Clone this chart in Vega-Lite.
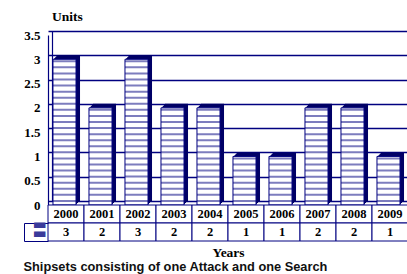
{
  "$schema": "https://vega.github.io/schema/vega-lite/v6.json",
  "padding": {"left": 23, "top": 9, "right": 0, "bottom": 0},
  "background": "white",
  "datasets": {
    "shipsets": [
      {"year": "2000", "units": 3},
      {"year": "2001", "units": 2},
      {"year": "2002", "units": 3},
      {"year": "2003", "units": 2},
      {"year": "2004", "units": 2},
      {"year": "2005", "units": 1},
      {"year": "2006", "units": 1},
      {"year": "2007", "units": 2},
      {"year": "2008", "units": 2},
      {"year": "2009", "units": 1}
    ]
  },
  "title": {
    "text": "Shipsets consisting of one Attack and one Search",
    "orient": "bottom",
    "anchor": "start",
    "frame": "bounds",
    "font": "Liberation Sans",
    "fontSize": 12.8,
    "fontWeight": "bold",
    "color": "#111111",
    "offset": 2
  },
  "spacing": 0,
  "bounds": "flush",
  "config": {"view": {"stroke": null}},
  "vconcat": [
    {
      "width": 360,
      "height": 170,
      "data": {"name": "shipsets"},
      "title": {
        "text": "Units",
        "anchor": "start",
        "frame": "group",
        "font": "Liberation Serif",
        "fontSize": 13.5,
        "fontWeight": "bold",
        "color": "black",
        "dx": 4,
        "offset": 6
      },
      "encoding": {
        "x": {
          "field": "year",
          "type": "ordinal",
          "scale": {"paddingInner": 0, "paddingOuter": 0},
          "axis": null
        }
      },
      "layer": [
        {
          "mark": {"type": "bar", "color": "#000066", "width": {"band": 0.64}, "xOffset": 2.5, "x2Offset": 2.5},
          "encoding": {
            "y": {
              "field": "units",
              "type": "quantitative",
              "scale": {"domain": [0, 3.5], "range": [166, -4], "nice": false},
              "axis": {
                "orient": "left",
                "offset": -4,
                "values": [0, 0.5, 1, 1.5, 2, 2.5, 3, 3.5],
                "grid": true,
                "gridColor": "#000080",
                "gridWidth": 1.4,
                "labels": false,
                "ticks": false,
                "domain": true,
                "domainColor": "#000080",
                "domainWidth": 1.2,
                "title": null
              }
            }
          }
        },
        {
          "encoding": {
            "y": {
              "field": "units",
              "type": "quantitative",
              "scale": {"domain": [0, 3.5], "nice": false},
              "axis": {
                "orient": "left",
                "values": [0, 0.5, 1, 1.5, 2, 2.5, 3, 3.5],
                "format": "~g",
                "grid": false,
                "ticks": false,
                "domain": true,
                "domainColor": "#000080",
                "domainWidth": 1.2,
                "labelFont": "Liberation Serif",
                "labelFontSize": 13,
                "labelFontWeight": "bold",
                "labelColor": "black",
                "labelPadding": 8,
                "title": null
              }
            }
          },
          "layer": [
            {"mark": {"type": "bar", "color": "#000066", "width": {"band": 0.64}, "xOffset": 1.5, "x2Offset": 1.5, "yOffset": -3, "y2Offset": -3}},
            {"mark": {"type": "bar", "color": "#000066", "width": {"band": 0.64}, "xOffset": 0.5, "x2Offset": 0.5, "yOffset": -2, "y2Offset": -2}},
            {"mark": {"type": "bar", "color": "#000066", "width": {"band": 0.64}, "xOffset": -0.5, "x2Offset": -0.5, "yOffset": -1, "y2Offset": -1}},
            {"mark": {"type": "bar", "fill": "white", "width": {"band": 0.64}, "xOffset": -1.5, "x2Offset": -1.5}},
            {
              "mark": {"type": "rule", "color": "#7d7dbe", "strokeWidth": 23, "strokeDash": [2, 4.07], "strokeDashOffset": -1, "xOffset": -1.5},
              "encoding": {"y2": {"datum": 0}}
            },
            {"mark": {"type": "bar", "fillOpacity": 0, "stroke": "#000080", "strokeWidth": 1, "width": {"band": 0.64}, "xOffset": -1.5, "x2Offset": -1.5}}
          ]
        }
      ],
      "resolve": {"scale": {"y": "independent"}}
    },
    {
      "width": 360,
      "height": 18,
      "data": {"name": "shipsets"},
      "encoding": {
        "x": {
          "field": "year",
          "type": "ordinal",
          "scale": {"paddingInner": 0, "paddingOuter": 0},
          "axis": null
        },
        "y": {"datum": "years", "type": "nominal", "scale": {"paddingInner": 0, "paddingOuter": 0}, "axis": null}
      },
      "layer": [
        {"mark": {"type": "rect", "fill": "white", "stroke": "#000080", "strokeWidth": 1}},
        {
          "mark": {"type": "text", "font": "Liberation Serif", "fontSize": 12.5, "fontWeight": "bold", "color": "black"},
          "encoding": {"text": {"field": "year"}}
        }
      ]
    },
    {
      "width": 360,
      "height": 18,
      "data": {"name": "shipsets"},
      "encoding": {
        "x": {
          "field": "year",
          "type": "ordinal",
          "scale": {"paddingInner": 0, "paddingOuter": 0},
          "axis": {
            "title": "Years",
            "labels": false,
            "ticks": false,
            "domain": false,
            "titleFont": "Liberation Serif",
            "titleFontSize": 13.5,
            "titleFontWeight": "bold",
            "titleColor": "black",
            "titlePadding": 4
          }
        },
        "y": {
          "datum": "legend",
          "type": "nominal",
          "scale": {"paddingInner": 0, "paddingOuter": 0},
          "axis": {
            "orient": "left",
            "offset": 24,
            "domain": true,
            "domainColor": "#000080",
            "ticks": true,
            "tickBand": "extent",
            "tickSize": -24,
            "tickColor": "#000080",
            "labelExpr": "'▬'",
            "labelAlign": "center",
            "labelPadding": 9,
            "labelFont": "DejaVu Sans",
            "labelFontSize": 15,
            "labelColor": "#3a3a9a",
            "title": null,
            "grid": false
          }
        }
      },
      "layer": [
        {"mark": {"type": "rect", "fill": "white", "stroke": "#000080", "strokeWidth": 1}},
        {
          "mark": {"type": "text", "font": "Liberation Serif", "fontSize": 12.5, "fontWeight": "bold", "color": "black"},
          "encoding": {"text": {"field": "units"}}
        }
      ]
    }
  ]
}
